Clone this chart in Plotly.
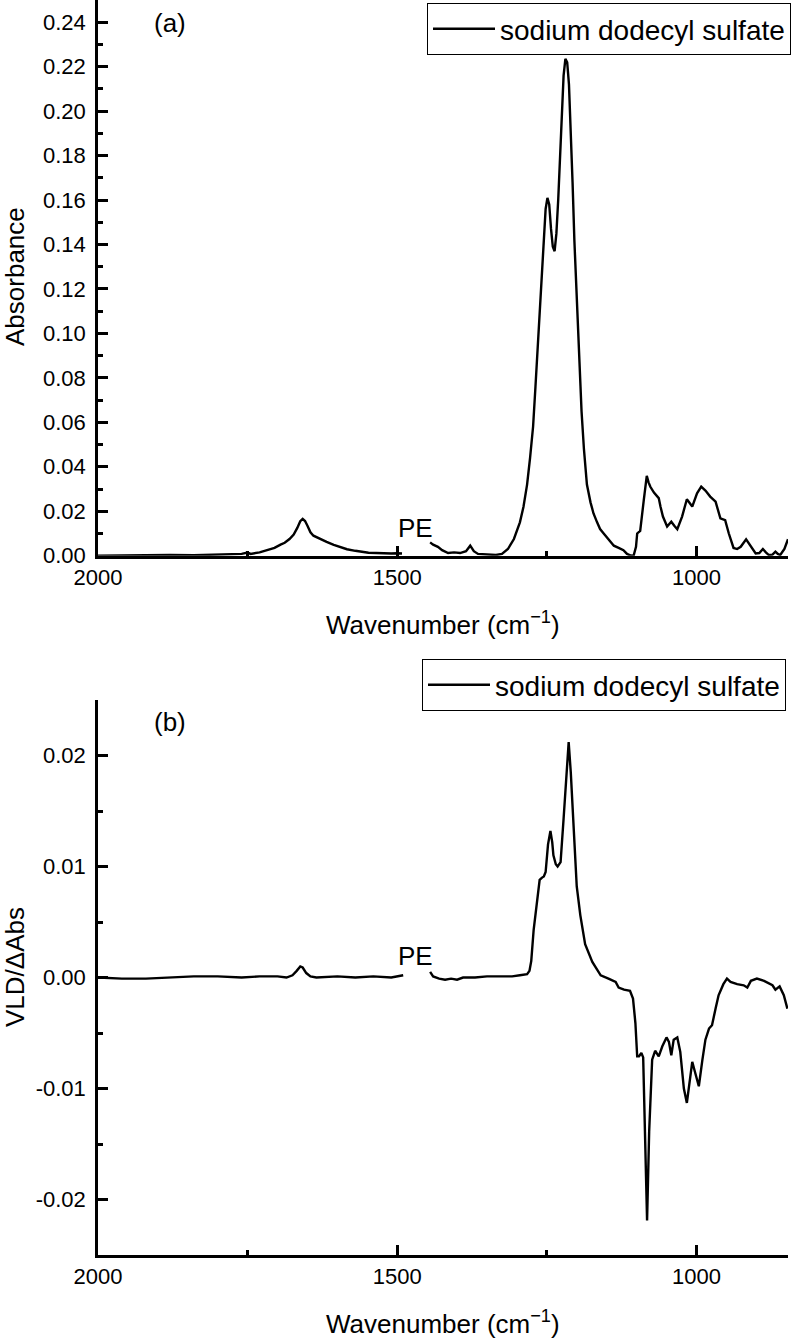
import plotly.graph_objects as go

# ---------------- data ----------------
series_name = "sodium dodecyl sulfate"

# panel (a): absorbance spectrum
wn_a = [2000, 1960, 1920, 1880, 1840, 1800, 1780, 1760, 1750, 1745, 1730, 1718, 1705,
        1695, 1688, 1680, 1673, 1667, 1662, 1658, 1654, 1650, 1645, 1640, 1630, 1618,
        1606, 1595, 1584, 1570, 1560, 1548, 1535, 1520, 1510, 1500, 1492,
        1470,
        1445, 1440, 1432, 1425, 1415, 1405, 1395, 1385, 1378, 1372, 1365, 1350, 1335,
        1325, 1315, 1305, 1295, 1289, 1283, 1278, 1273, 1269, 1265, 1262, 1258, 1255,
        1252, 1249, 1246, 1243, 1240, 1237, 1234, 1231, 1228, 1225, 1222, 1219, 1216,
        1213, 1210, 1207, 1204, 1200, 1196, 1192, 1188, 1183, 1177, 1172, 1166, 1161,
        1155, 1149, 1143, 1138, 1130, 1127, 1122, 1116, 1110, 1105, 1101, 1099, 1094,
        1088, 1083, 1080, 1077, 1071, 1067, 1063, 1060, 1056, 1049, 1042, 1037, 1032,
        1024, 1016, 1007, 999, 992, 985, 977, 968, 960, 952, 946, 938, 932, 926, 917,
        910, 901, 895, 889, 884, 879, 873, 868, 864, 860, 853, 847]
abs_a = [0.0000, 0.0002, 0.0001, 0.0003, 0.0002, 0.0004, 0.0006, 0.0008, 0.0014, 0.0008,
         0.0015, 0.0025, 0.0035, 0.0050, 0.0058, 0.0075, 0.0095, 0.0125, 0.0155, 0.0166,
         0.0156, 0.0135, 0.0105, 0.0090, 0.0076, 0.0062, 0.0049, 0.0038, 0.0029, 0.0022,
         0.0018, 0.0013, 0.0012, 0.0009, 0.0010, 0.0011, 0.0010,
         None,
         0.0060, 0.0050, 0.0040, 0.0025, 0.0012, 0.0015, 0.0012, 0.0020, 0.0045, 0.0020,
         0.0008, 0.0004, 0.0003, 0.0008, 0.0030, 0.0075, 0.0150, 0.0220, 0.0320, 0.0440,
         0.0580, 0.0760, 0.0950, 0.1100, 0.1330, 0.1460, 0.1560, 0.1610, 0.1580, 0.1470,
         0.1390, 0.1370, 0.1450, 0.1600, 0.1800, 0.2000, 0.2160, 0.2235, 0.2220, 0.2120,
         0.1930, 0.1680, 0.1420, 0.1150, 0.0880, 0.0650, 0.0480, 0.0320, 0.0240, 0.0190,
         0.0150, 0.0120, 0.0100, 0.0080, 0.0060, 0.0045, 0.0035, 0.0032, 0.0025, 0.0008,
         0.0001, 0.0000, 0.0040, 0.0100, 0.0112, 0.0250, 0.0359, 0.0330, 0.0310, 0.0284,
         0.0272, 0.0259, 0.0220, 0.0176, 0.0131, 0.0153, 0.0135, 0.0119, 0.0176, 0.0254,
         0.0221, 0.0281, 0.0311, 0.0293, 0.0266, 0.0243, 0.0168, 0.0160, 0.0101, 0.0035,
         0.0030, 0.0040, 0.0074, 0.0048, 0.0010, 0.0012, 0.0030, 0.0015, 0.0003, 0.0005,
         0.0018, 0.0008, 0.0003, 0.0030, 0.0074]

# panel (b): VLD / delta Abs spectrum
wn_b = [2000, 1960, 1920, 1880, 1840, 1800, 1760, 1730, 1700, 1685, 1675, 1668, 1662,
        1658, 1652, 1645, 1635, 1600, 1570, 1540, 1510, 1490,
        1470,
        1445, 1440, 1430, 1420, 1410, 1400, 1390, 1370, 1350, 1330, 1308, 1295, 1283,
        1279, 1276, 1272, 1266, 1262, 1258, 1255, 1252, 1248, 1244, 1241, 1239, 1235,
        1232, 1227, 1222, 1217, 1213.5, 1210, 1205, 1200, 1194, 1186, 1174, 1160, 1147,
        1135, 1130, 1121, 1111, 1106, 1102, 1099, 1096, 1092, 1089, 1086, 1082.5, 1079,
        1074, 1069, 1063, 1057, 1050, 1046, 1042, 1038, 1032, 1027, 1021, 1016, 1011,
        1007, 1003, 996, 990, 985, 979, 974, 968, 963, 955, 949, 943, 932, 921, 915, 909,
        899, 887, 873, 868, 861, 854, 848]
vld_b = [0.0000, -0.0001, -0.0001, 0.0000, 0.0001, 0.0001, 0.0000, 0.0001, 0.0001, 0.0000,
         0.0002, 0.0006, 0.0010, 0.0009, 0.0004, 0.0001, 0.0000, 0.0001, 0.0000, 0.0001,
         0.0000, 0.0002,
         None,
         0.0005, 0.0001, -0.0001, -0.0002, -0.0001, -0.0002, 0.0000, 0.0000, 0.0001, 0.0001,
         0.0001, 0.0002, 0.0003, 0.0006, 0.0015, 0.0043, 0.0069, 0.0088, 0.0090, 0.0091,
         0.0095, 0.0120, 0.0132, 0.0122, 0.0110, 0.0102, 0.0100, 0.0104, 0.0143, 0.0185,
         0.0212, 0.0185, 0.0127, 0.0082, 0.0056, 0.0030, 0.0014, 0.0002, -0.0001, -0.0004,
         -0.0009, -0.0011, -0.0012, -0.0019, -0.0041, -0.0071, -0.0071, -0.0068, -0.0072,
         -0.0139, -0.0219, -0.0139, -0.0074, -0.0066, -0.0071, -0.0062, -0.0054, -0.0058,
         -0.0070, -0.0056, -0.0054, -0.0067, -0.0100, -0.0113, -0.0093, -0.0076, -0.0084,
         -0.0098, -0.0074, -0.0056, -0.0046, -0.0043, -0.0028, -0.0016, -0.0006, -0.0001,
         -0.0004, -0.0006, -0.0007, -0.0009, -0.0003, -0.0001, -0.0003, -0.0007, -0.0011,
         -0.0008, -0.0016, -0.0028]

# axis ticks
x_range = [2000, 847]
ya_range = [0, 0.25]
yb_range = [-0.025, 0.025]
yb_tickvals = [-0.02, -0.01, 0.0, 0.01, 0.02]
yb_ticktext = ["-0.02", "-0.01", "0.00", "0.01", "0.02"]

# ---------------- figure ----------------
W, H = 793, 1341
FONT = "Liberation Sans, Arial, sans-serif"


def px_x(p):
    return p / W


def px_y(p):
    return 1 - p / H


fig = go.Figure()
fig.add_trace(go.Scatter(x=wn_a, y=abs_a, mode="lines", name=series_name,
                         line=dict(color="black", width=2.4), connectgaps=False,
                         xaxis="x", yaxis="y", legend="legend"))
fig.add_trace(go.Scatter(x=wn_b, y=vld_b, mode="lines", name=series_name,
                         line=dict(color="black", width=2.4), connectgaps=False,
                         xaxis="x2", yaxis="y2", legend="legend2"))

axis_common = dict(showline=True, linecolor="black", linewidth=2.5, ticks="inside",
                   ticklen=10, tickwidth=2.5, tickcolor="black", showgrid=False,
                   zeroline=False, mirror=False, automargin=False,
                   tickfont=dict(family=FONT, size=22, color="black"))
minor_common = dict(ticks="inside", ticklen=5, tickwidth=2.5, tickcolor="black",
                    showgrid=False)

xdom = [px_x(98), px_x(788)]
fig.update_layout(
    width=W, height=H,
    margin=dict(l=0, r=0, t=0, b=0),
    paper_bgcolor="white", plot_bgcolor="white",
    font=dict(family=FONT, color="black"),
    xaxis=dict(domain=xdom, range=x_range, anchor="y", tickmode="linear", tick0=0,
               dtick=500, minor=dict(dtick=250, **minor_common), **axis_common),
    yaxis=dict(domain=[px_y(555.7), 1.0], range=ya_range, anchor="x",
               tickmode="linear", tick0=0, dtick=0.02, tickformat=".2f",
               ticklabelstandoff=5,
               minor=dict(dtick=0.01, **minor_common), **axis_common),
    xaxis2=dict(domain=xdom, range=x_range, anchor="y2", tickmode="linear", tick0=0,
                dtick=500, minor=dict(dtick=250, **minor_common), **axis_common),
    yaxis2=dict(domain=[px_y(1255), px_y(700)], range=yb_range, anchor="x2",
                tickmode="array", tickvals=yb_tickvals, ticktext=yb_ticktext,
                ticklabelstandoff=5,
                minor=dict(tickmode="linear", tick0=0, dtick=0.005, **minor_common),
                **axis_common),
    legend=dict(x=px_x(791), y=px_y(3), xanchor="right", yanchor="top",
                bordercolor="black", borderwidth=1, bgcolor="white", itemwidth=62,
                font=dict(family=FONT, size=28, color="black")),
    legend2=dict(x=px_x(786), y=px_y(659), xanchor="right", yanchor="top",
                 bordercolor="black", borderwidth=1, bgcolor="white", itemwidth=62,
                 font=dict(family=FONT, size=28, color="black")),
    showlegend=True,
)

ann_font = dict(family=FONT, size=26, color="black")
annotations = [
    dict(text="(a)", x=px_x(170), y=px_y(23)),
    dict(text="(b)", x=px_x(170), y=px_y(722)),
    dict(text="PE", x=px_x(415), y=px_y(528)),
    dict(text="PE", x=px_x(415), y=px_y(956)),
    dict(text="Absorbance", x=px_x(15), y=px_y(277), textangle=-90),
    dict(text="VLD/ΔAbs", x=px_x(15), y=px_y(967), textangle=-90),
    dict(text="Wavenumber (cm<sup>−1</sup>)", x=px_x(443), y=px_y(624)),
    dict(text="Wavenumber (cm<sup>−1</sup>)", x=px_x(443), y=px_y(1322)),
]
for a in annotations:
    fig.add_annotation(xref="paper", yref="paper", showarrow=False,
                       xanchor="center", yanchor="middle", font=ann_font, **a)

fig.write_html("out.html",
               config={"displayModeBar": False},
               post_script="document.body.style.margin='0';"
                           "document.body.style.overflow='hidden';")
